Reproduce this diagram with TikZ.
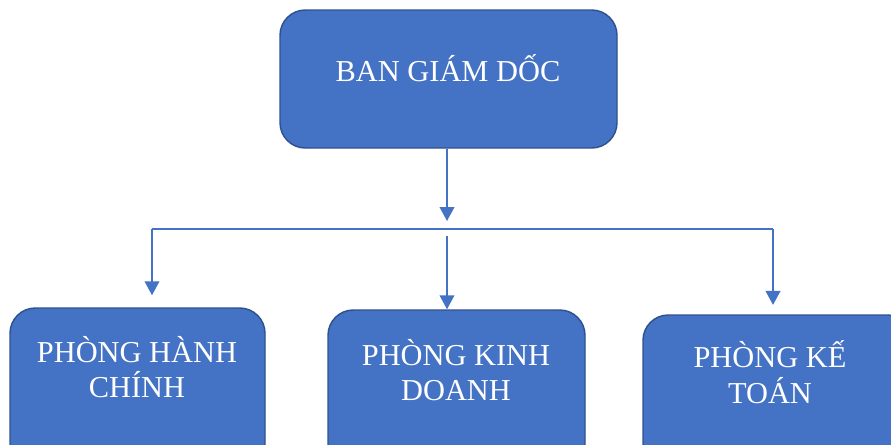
\documentclass[tikz,border=0pt]{standalone}
\usepackage{fontspec}
\setmainfont{Liberation Serif}
\usetikzlibrary{arrows.meta}
\definecolor{boxblue}{HTML}{4472C4}
\definecolor{boxedge}{HTML}{2F528F}
\begin{document}
\begin{tikzpicture}[x=0.75pt,y=-0.75pt,
  box/.style={draw=boxedge,line width=1.1pt,fill=boxblue,rounded corners=19pt,inner sep=0pt},
  lbl/.style={text=white,font=\fontsize{22.8}{26.5}\selectfont,align=center,inner sep=0pt},
  conn/.style={draw=boxblue,line width=1.3pt},
  arr/.style={conn,-{Triangle[width=11pt,length=10.5pt]}}]
\useasboundingbox (0,0) rectangle (891,444);
\clip (0,0) rectangle (891,444);
% boxes
\node[box,minimum width=337*0.75pt,minimum height=138*0.75pt] (top) at (448.5,79) {};
\node[box,minimum width=255*0.75pt,minimum height=170*0.75pt] (left) at (137.5,393) {};
\node[box,minimum width=257*0.75pt,minimum height=170*0.75pt] (mid) at (456.5,395) {};
\node[box,minimum width=270*0.75pt,minimum height=170*0.75pt] (right) at (778,400) {};
% labels
\node[lbl] (ttop) at (448,68) {BAN GIÁM DỐC};
\node[lbl] (tleft) at (137,367) {PHÒNG HÀNH\\CHÍNH};
\node[lbl] (tmid) at (456,370) {PHÒNG KINH\\DOANH};
\node[lbl] (tright) at (770,372) {PHÒNG KẾ\\TOÁN};
% connectors
\coordinate (j1) at (447,221);
\coordinate (hl) at (152,229);
\coordinate (hr) at (773,229);
\coordinate (m1) at (447,236);
\draw[arr] (top.south -| j1) -- (j1);
\draw[conn] (hl) -- (hr);
\draw[arr,shorten >=9pt] (hl) -- (hl |- left.north);
\draw[arr] (m1) -- (m1 |- mid.north);
\draw[arr,shorten >=7pt] (hr) -- (hr |- right.north);
\end{tikzpicture}
\end{document}
